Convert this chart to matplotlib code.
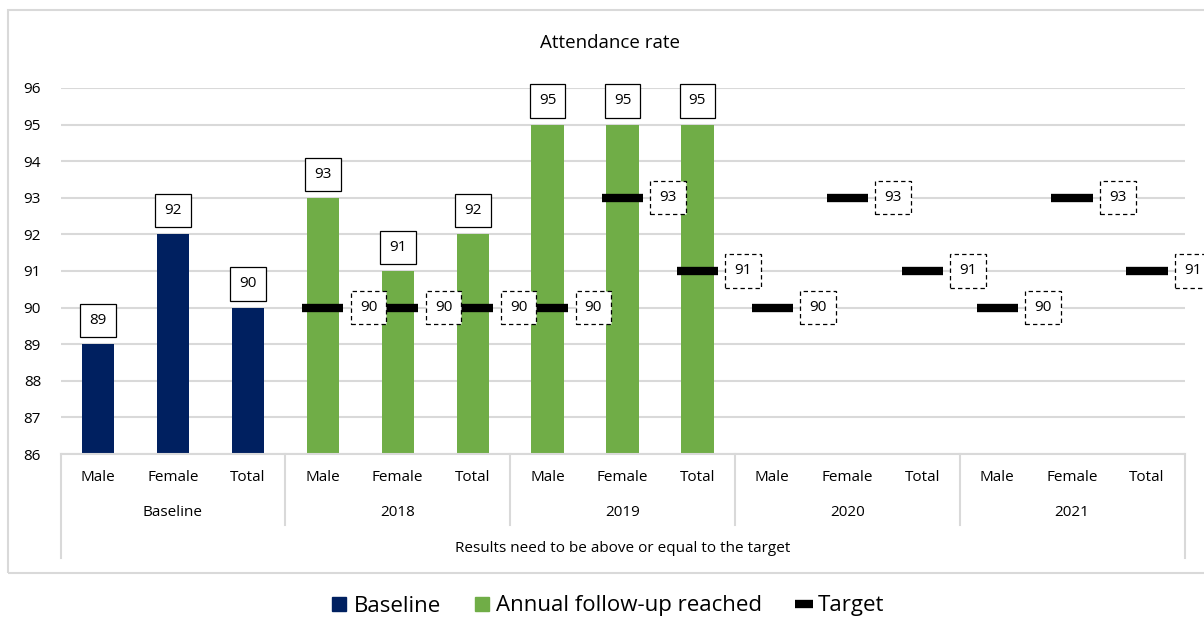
import numpy as np
import matplotlib.pyplot as plt
from matplotlib.lines import Line2D
from matplotlib.patches import Rectangle

plt.rcParams['font.family'] = ['Open Sans', 'DejaVu Sans']

# categories
groups = ['Baseline', '2018', '2019', '2020', '2021']
sexes = ['Male', 'Female', 'Total']

# values
baseline_vals = [89, 92, 90]
followup_vals = [93, 91, 92, 95, 95, 95]          # 2018, 2019
target_vals = [90, 90, 90, 90, 93, 91, 90, 93, 91, 90, 93, 91]  # 2018..2021

navy = '#002060'
green = '#70AD47'
grid_c = '#D9D9D9'

fig = plt.figure(figsize=(12.04, 6.17), dpi=100)
W, H = 1204, 617
ax = fig.add_axes([60.5 / W, 1 - 454 / H, 1124 / W, 366 / H])

x = np.arange(len(groups) * len(sexes))
bw = 0.43

xb = x[:3]
xf = x[3:9]
xt = x[3:]

ax.bar(xb, baseline_vals, width=bw, color=navy, zorder=2)
ax.bar(xf, followup_vals, width=bw, color=green, zorder=2)
ax.hlines(target_vals, xt - 0.275, xt + 0.275, colors='black', linewidth=6, zorder=3)

fs = 11
box_solid = dict(boxstyle='square,pad=0.6', fc='white', ec='black', lw=0.9)
box_dash = dict(boxstyle='square,pad=0.6', fc='white', ec='black', lw=0.9, ls=(0, (3.5, 2.5)))

for xi, v in zip(np.concatenate([xb, xf]), baseline_vals + followup_vals):
    ax.annotate(str(v), (xi, v), xytext=(0, 17), textcoords='offset points',
                ha='center', va='center', fontsize=fs, bbox=box_solid, zorder=4)
for xi, v in zip(xt, target_vals):
    ax.annotate(str(v), (xi, v), xytext=(33, 0), textcoords='offset points',
                ha='center', va='center', fontsize=fs, bbox=box_dash, zorder=4,
                annotation_clip=False)

ax.set_ylim(86, 96)
ax.set_xlim(-0.5, len(x) - 0.5)
ax.set_yticks(range(86, 97))
ax.tick_params(axis='y', length=0, labelsize=fs, pad=14)
ax.set_xticks([])
ax.yaxis.grid(True, color=grid_c, lw=1.5, zorder=0)
ax.set_axisbelow(True)
for s in ['top', 'right', 'left']:
    ax.spines[s].set_visible(False)
ax.spines['bottom'].set_color(grid_c)
ax.spines['bottom'].set_linewidth(1.5)

# multi-level category axis
tr = ax.get_xaxis_transform()
for i, xi in enumerate(x):
    ax.text(xi, -0.063, sexes[i % 3], transform=tr, ha='center', va='center', fontsize=fs)
for g, name in enumerate(groups):
    ax.text(g * 3 + 1, -0.161, name, transform=tr, ha='center', va='center', fontsize=fs)
ax.text((len(x) - 1) / 2, -0.257, 'Results need to be above or equal to the target',
        transform=tr, ha='center', va='center', fontsize=fs)
for b in np.arange(2.5, len(x) - 1, 3):
    ax.plot([b, b], [0, -0.194], transform=tr, color=grid_c, lw=1.5, clip_on=False)
for b in [-0.5, len(x) - 0.5]:
    ax.plot([b, b], [0, -0.284], transform=tr, color=grid_c, lw=1.5, clip_on=False)

fig.text(610 / W, 1 - 43 / H, 'Attendance rate', ha='center', va='center', fontsize=13.5)

# chart border
fig.patches.append(Rectangle((8 / W, 1 - 573 / H), 1.05, (573 - 10) / H,
                             transform=fig.transFigure, fill=False, ec=grid_c, lw=1.5))

handles = [
    Line2D([], [], ls='none', marker='s', ms=10, color=navy),
    Line2D([], [], ls='none', marker='s', ms=10, color=green),
    Line2D([], [], ls='none', marker='_', ms=13, mew=6, color='black'),
]
fig.legend(handles, ['Baseline', 'Annual follow-up reached', 'Target'],
           loc='center', bbox_to_anchor=(608 / W, 1 - 606 / H), ncol=3, frameon=False,
           fontsize=16, handlelength=0.7, handletextpad=0.3, columnspacing=1.5)

fig.savefig('out.png', dpi=100)
